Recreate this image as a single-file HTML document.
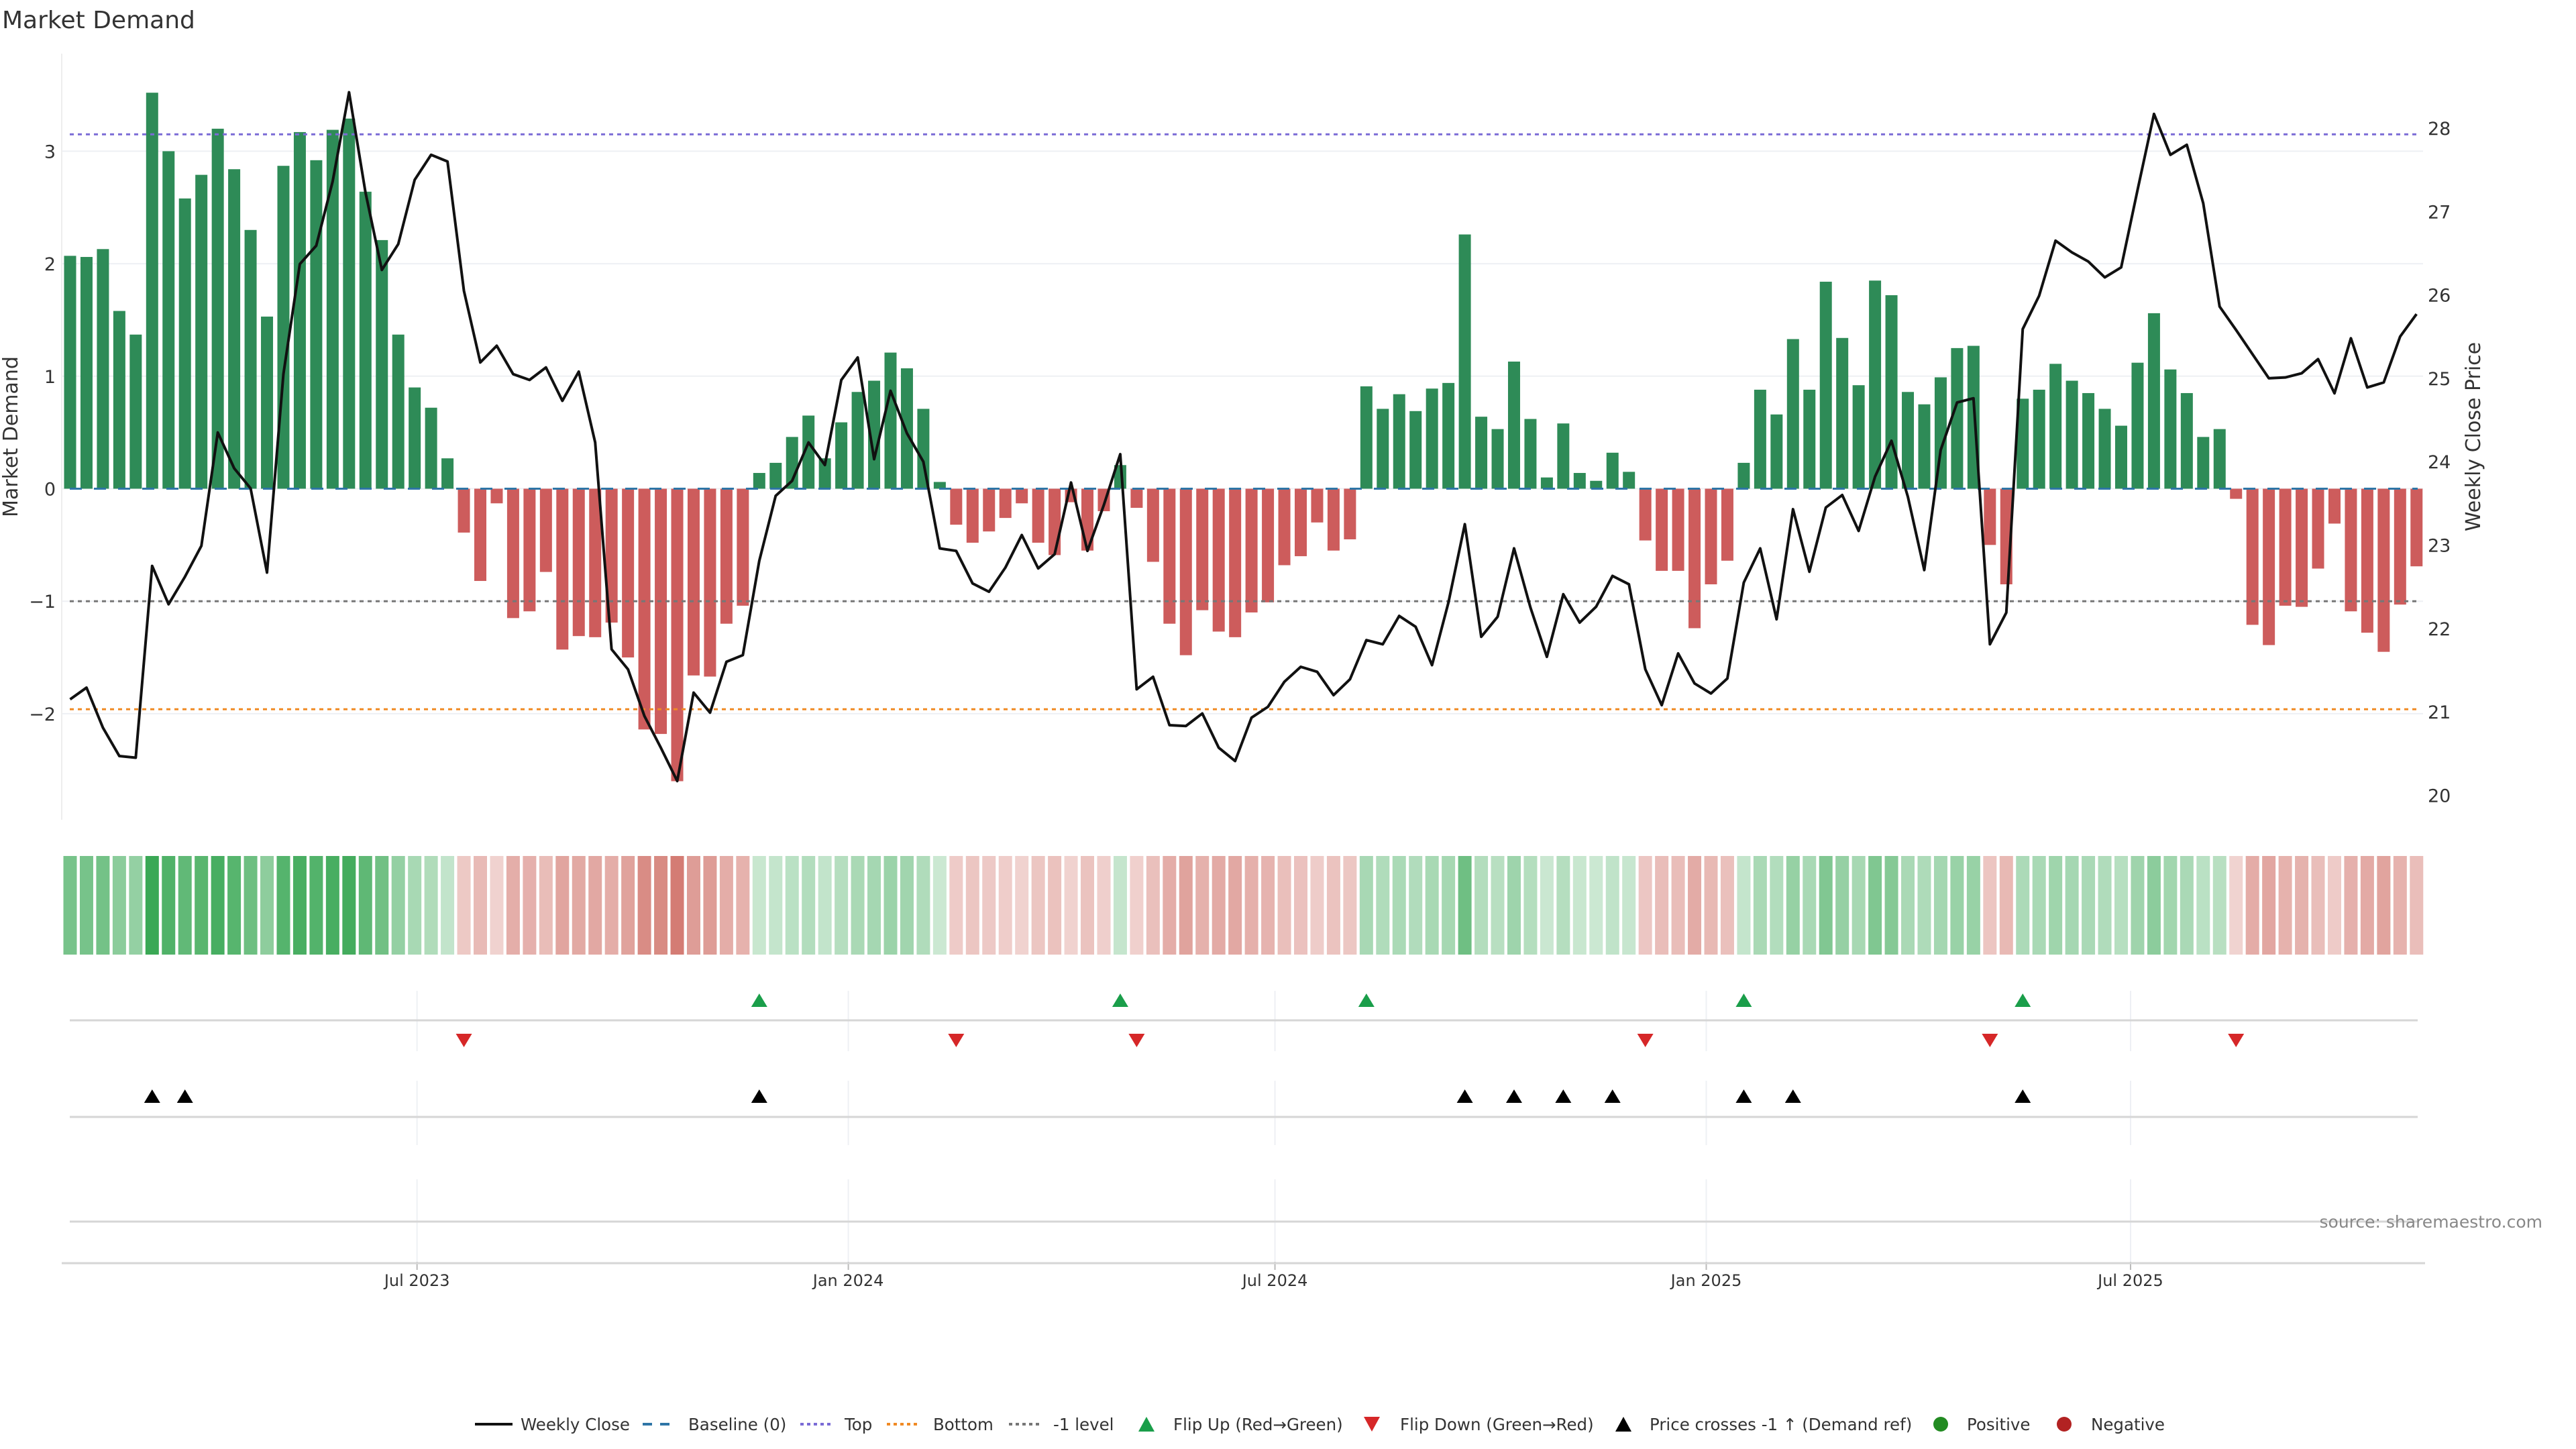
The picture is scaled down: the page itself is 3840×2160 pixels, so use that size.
<!DOCTYPE html>
<html><head><meta charset="utf-8"><style>
html,body{margin:0;padding:0;background:#fff;}
svg{display:block;font-family:"DejaVu Sans","Liberation Sans",sans-serif;}
</style></head><body>
<svg id="chart" width="3840" height="2160" viewBox="0 0 3840 2160" xmlns="http://www.w3.org/2000/svg">
<text x="3" y="42" font-size="36" fill="#333">Market Demand</text>
<g id="main"></g>
<g id="lower"></g>
<text transform="translate(26,651) rotate(-90)" text-anchor="middle" font-size="30" fill="#333">Market Demand</text>
<text transform="translate(3697,651) rotate(-90)" text-anchor="middle" font-size="30" fill="#333">Weekly Close Price</text>
<text x="3790" y="1830" text-anchor="end" font-size="25" fill="#888">source: sharemaestro.com</text>
<g font-size="24.5" fill="#333">
<g><line x1="708" y1="2123" x2="764" y2="2123" stroke="#111" stroke-width="4"/><text x="776" y="2132">Weekly Close</text></g>
<g><line x1="958" y1="2123" x2="1008" y2="2123" stroke="#2e75a6" stroke-width="4" stroke-dasharray="14,12"/><text x="1026" y="2132">Baseline (0)</text></g>
<g><line x1="1193" y1="2123" x2="1243" y2="2123" stroke="#7a6bd6" stroke-width="4" stroke-dasharray="5,5"/><text x="1259" y="2132">Top</text></g>
<g><line x1="1322" y1="2123" x2="1372" y2="2123" stroke="#f08a24" stroke-width="4" stroke-dasharray="5,5"/><text x="1391" y="2132">Bottom</text></g>
<g><line x1="1504" y1="2123" x2="1554" y2="2123" stroke="#777" stroke-width="4" stroke-dasharray="5,5"/><text x="1570" y="2132">-1 level</text></g>
<g><path d="M1697,2134 L1721,2134 L1709,2112 Z" fill="#1a9e4a"/><text x="1749" y="2132">Flip Up (Red→Green)</text></g>
<g><path d="M2033,2112 L2057,2112 L2045,2134 Z" fill="#d62728"/><text x="2087" y="2132">Flip Down (Green→Red)</text></g>
<g><path d="M2408,2134 L2432,2134 L2420,2112 Z" fill="#000"/><text x="2459" y="2132">Price crosses -1 ↑ (Demand ref)</text></g>
<g><circle cx="2893" cy="2123" r="11" fill="#228b22"/><text x="2932" y="2132">Positive</text></g>
<g><circle cx="3077" cy="2123" r="11" fill="#b22222"/><text x="3117" y="2132">Negative</text></g>
</g>
</svg>
<script>
const demand = [2.07,2.06,2.13,1.58,1.37,3.52,3.00,2.58,2.79,3.20,2.84,2.30,1.53,2.87,3.17,2.92,3.19,3.29,2.64,2.21,1.37,0.90,0.72,0.27,
-0.39,-0.82,-0.13,-1.15,-1.09,-0.74,-1.43,-1.31,-1.32,-1.19,-1.50,-2.14,-2.18,-2.60,-1.66,-1.67,-1.20,-1.04,
0.14,0.23,0.46,0.65,0.27,0.59,0.86,0.96,1.21,1.07,0.71,0.06,
-0.32,-0.48,-0.38,-0.26,-0.13,-0.48,-0.59,-0.12,-0.55,-0.20,0.21,-0.17,-0.65,-1.20,-1.48,-1.08,-1.27,-1.32,-1.10,-1.01,-0.68,-0.60,-0.30,-0.55,-0.45,
0.91,0.71,0.84,0.69,0.89,0.94,2.26,0.64,0.53,1.13,0.62,0.10,0.58,0.14,0.07,0.32,0.15,
-0.46,-0.73,-0.73,-1.24,-0.85,-0.64,
0.23,0.88,0.66,1.33,0.88,1.84,1.34,0.92,1.85,1.72,0.86,0.75,0.99,1.25,1.27,-0.50,-0.85,
0.80,0.88,1.11,0.96,0.85,0.71,0.56,1.12,1.56,1.06,0.85,0.46,0.53,
-0.09,-1.21,-1.39,-1.04,-1.05,-0.71,-0.31,-1.09,-1.28,-1.45,-1.03,-0.69];
const price = [21.15,21.29,20.81,20.47,20.45,22.75,22.29,22.62,22.99,24.35,23.92,23.68,22.67,25.05,26.37,26.59,27.36,28.43,27.23,26.30,26.61,27.38,27.68,27.60,
26.05,25.19,25.39,25.05,24.98,25.13,24.73,25.08,24.23,21.75,21.51,20.95,20.57,20.17,21.23,20.99,21.60,21.68,22.81,23.59,23.77,24.23,23.96,24.98,25.25,
24.03,24.85,24.34,24.00,22.96,22.93,22.54,22.44,22.73,23.12,22.72,22.89,23.75,22.93,23.48,24.09,21.27,21.42,20.84,20.83,20.98,20.57,20.41,20.93,21.06,
21.36,21.54,21.48,21.20,21.39,21.86,21.81,22.15,22.02,21.56,22.31,23.25,21.90,22.14,22.96,22.25,21.66,22.41,22.07,22.26,22.63,22.53,21.51,21.08,21.70,21.34,21.22,
21.40,22.55,22.96,22.11,23.43,22.68,23.45,23.60,23.17,23.82,24.25,23.58,22.70,24.14,24.71,24.76,21.81,22.19,25.59,25.99,26.65,26.51,26.40,26.21,26.33,27.26,
28.17,27.68,27.80,27.10,25.86,25.58,25.29,25.00,25.01,25.06,25.23,24.82,25.48,24.89,24.95,25.50,25.77];
const leftTicks = [-2,-1,0,1,2,3];
const rightTicks = [20,21,22,23,24,25,26,27,28];
const refLevels = [3.15, -1, -1.96]; // top, -1 level, bottom
const dateTicks = ["2023-07-01","2024-01-01","2024-07-01","2025-01-01","2025-07-01"];
const dateLabels = ["Jul 2023","Jan 2024","Jul 2024","Jan 2025","Jul 2025"];
const startDate = "2023-02-03";

const NS = "http://www.w3.org/2000/svg";
const X0 = 104.5, STEP = 24.46, BW = 18;
function xOf(i){ return X0 + i*STEP; }
function xDate(d){ return X0 + (new Date(d) - new Date(startDate))/86400000/7*STEP; }
function yL(v){ return 728.5 - v*167.7; }
function yR(p){ return 191 + (28-p)*124.3; }
function pFromY(y){ return 28 - (y-191)/124.3; }
function mk(tag, attrs, parent){ const e=document.createElementNS(NS,tag); for(const k in attrs) e.setAttribute(k,attrs[k]); parent.appendChild(e); return e; }
const main = document.getElementById('main');
const lower = document.getElementById('lower');

leftTicks.forEach(t=>{
  const g = mk('line',{x1:92,x2:3612,y1:yL(t),y2:yL(t),stroke:'#eef0f4','stroke-width':2},main);
  
  
  const tx = mk('text',{x:83,y:yL(t)+10,'text-anchor':'end','font-size':27,fill:'#333'},main);
  tx.textContent = t<0 ? '\u2212'+Math.abs(t) : String(t);
  
  
});
rightTicks.forEach(t=>{
  const tx = mk('text',{x:3619,y:yR(t)+10,'font-size':27,fill:'#333'},main);
  tx.textContent = String(t);
  
  
});
const spine = mk('line',{x1:92,x2:92,y1:80,y2:1222,stroke:'#eee','stroke-width':2},main);



demand.forEach((v,i)=>{
  const y0=yL(0), y1=yL(v);
  const r = mk('rect',{x:xOf(i)-BW/2,y:Math.min(y0,y1),width:BW,height:Math.max(1,Math.abs(y1-y0)),fill:v>=0?'#2e8b57':'#cd5c5c'},main);
  
  
});
const refStyles = [['#7a6bd6','top-line'],['#777','minus-one-line'],['#f08a24','bottom-line']];
refLevels.forEach((lv,k)=>{
  const l = mk('line',{x1:104,x2:3604,y1:yL(lv),y2:yL(lv),stroke:refStyles[k][0],'stroke-width':3,'stroke-dasharray':'6,6'},main);
  
  
});
const base = mk('line',{x1:104,x2:3604,y1:yL(0),y2:yL(0),stroke:'#2e75a6','stroke-width':3,'stroke-dasharray':'18,18'},main);


const pl = mk('polyline',{points:price.map((p,i)=>xOf(i)+','+yR(p)).join(' '),fill:'none',stroke:'#111','stroke-width':4,'stroke-linejoin':'round'},main);



const vmax = Math.max(...demand.map(Math.abs));
demand.forEach((v,i)=>{
  const t = 0.25 + 0.75*Math.abs(v)/vmax;
  const b = v>=0 ? [58,168,85] : [201,92,82];
  const c = b.map(x=>Math.round(255*(1-t)+x*t));
  const r = mk('rect',{x:xOf(i)-BW/2-1,y:1276,width:BW+2,height:147,fill:'rgb('+c.join(',')+')'},lower);
  
  
});

dateTicks.forEach((d,k)=>{
  const x = xDate(d);
  [[1477,1567],[1611,1707],[1758,1881]].forEach(s=>{
    const g = mk('line',{x1:x,x2:x,y1:s[0],y2:s[1],stroke:'#eef0f4','stroke-width':2},lower);
    
    
  });
  const tk = mk('line',{x1:x,x2:x,y1:1881,y2:1893,stroke:'#bbb','stroke-width':2},lower);
  
  
  const tx = mk('text',{x:x,y:1917,'text-anchor':'middle','font-size':24,fill:'#333'},lower);
  tx.textContent = dateLabels[k];
  
  
});
[[104,3604,1521],[104,3604,1665],[104,3604,1821]].forEach(s=>{
  const l = mk('line',{x1:s[0],x2:s[1],y1:s[2],y2:s[2],stroke:'#d6d6d6','stroke-width':3},lower);
  
  
});
const xa = mk('line',{x1:92,x2:3615,y1:1883,y2:1883,stroke:'#d6d6d6','stroke-width':3},lower);



function tri(x,y,up,fill,name){
  const d = up ? `M${x-12},${y+10} L${x+12},${y+10} L${x},${y-10} Z` : `M${x-12},${y-10} L${x+12},${y-10} L${x},${y+10} Z`;
  const p = mk('path',{d:d,fill:fill},lower);
  
  
}
const priceRef = pFromY(yL(-1));
for(let i=1;i<demand.length;i++){
  if(demand[i]>0 && demand[i-1]<=0) tri(xOf(i),1491,true,'#1a9e4a','flip-up-marker');
  if(demand[i]<=0 && demand[i-1]>0) tri(xOf(i),1551,false,'#d62728','flip-down-marker');
  if(price[i]>priceRef && price[i-1]<=priceRef) tri(xOf(i),1634,true,'#000','price-cross-marker');
}
</script>
</body></html>
